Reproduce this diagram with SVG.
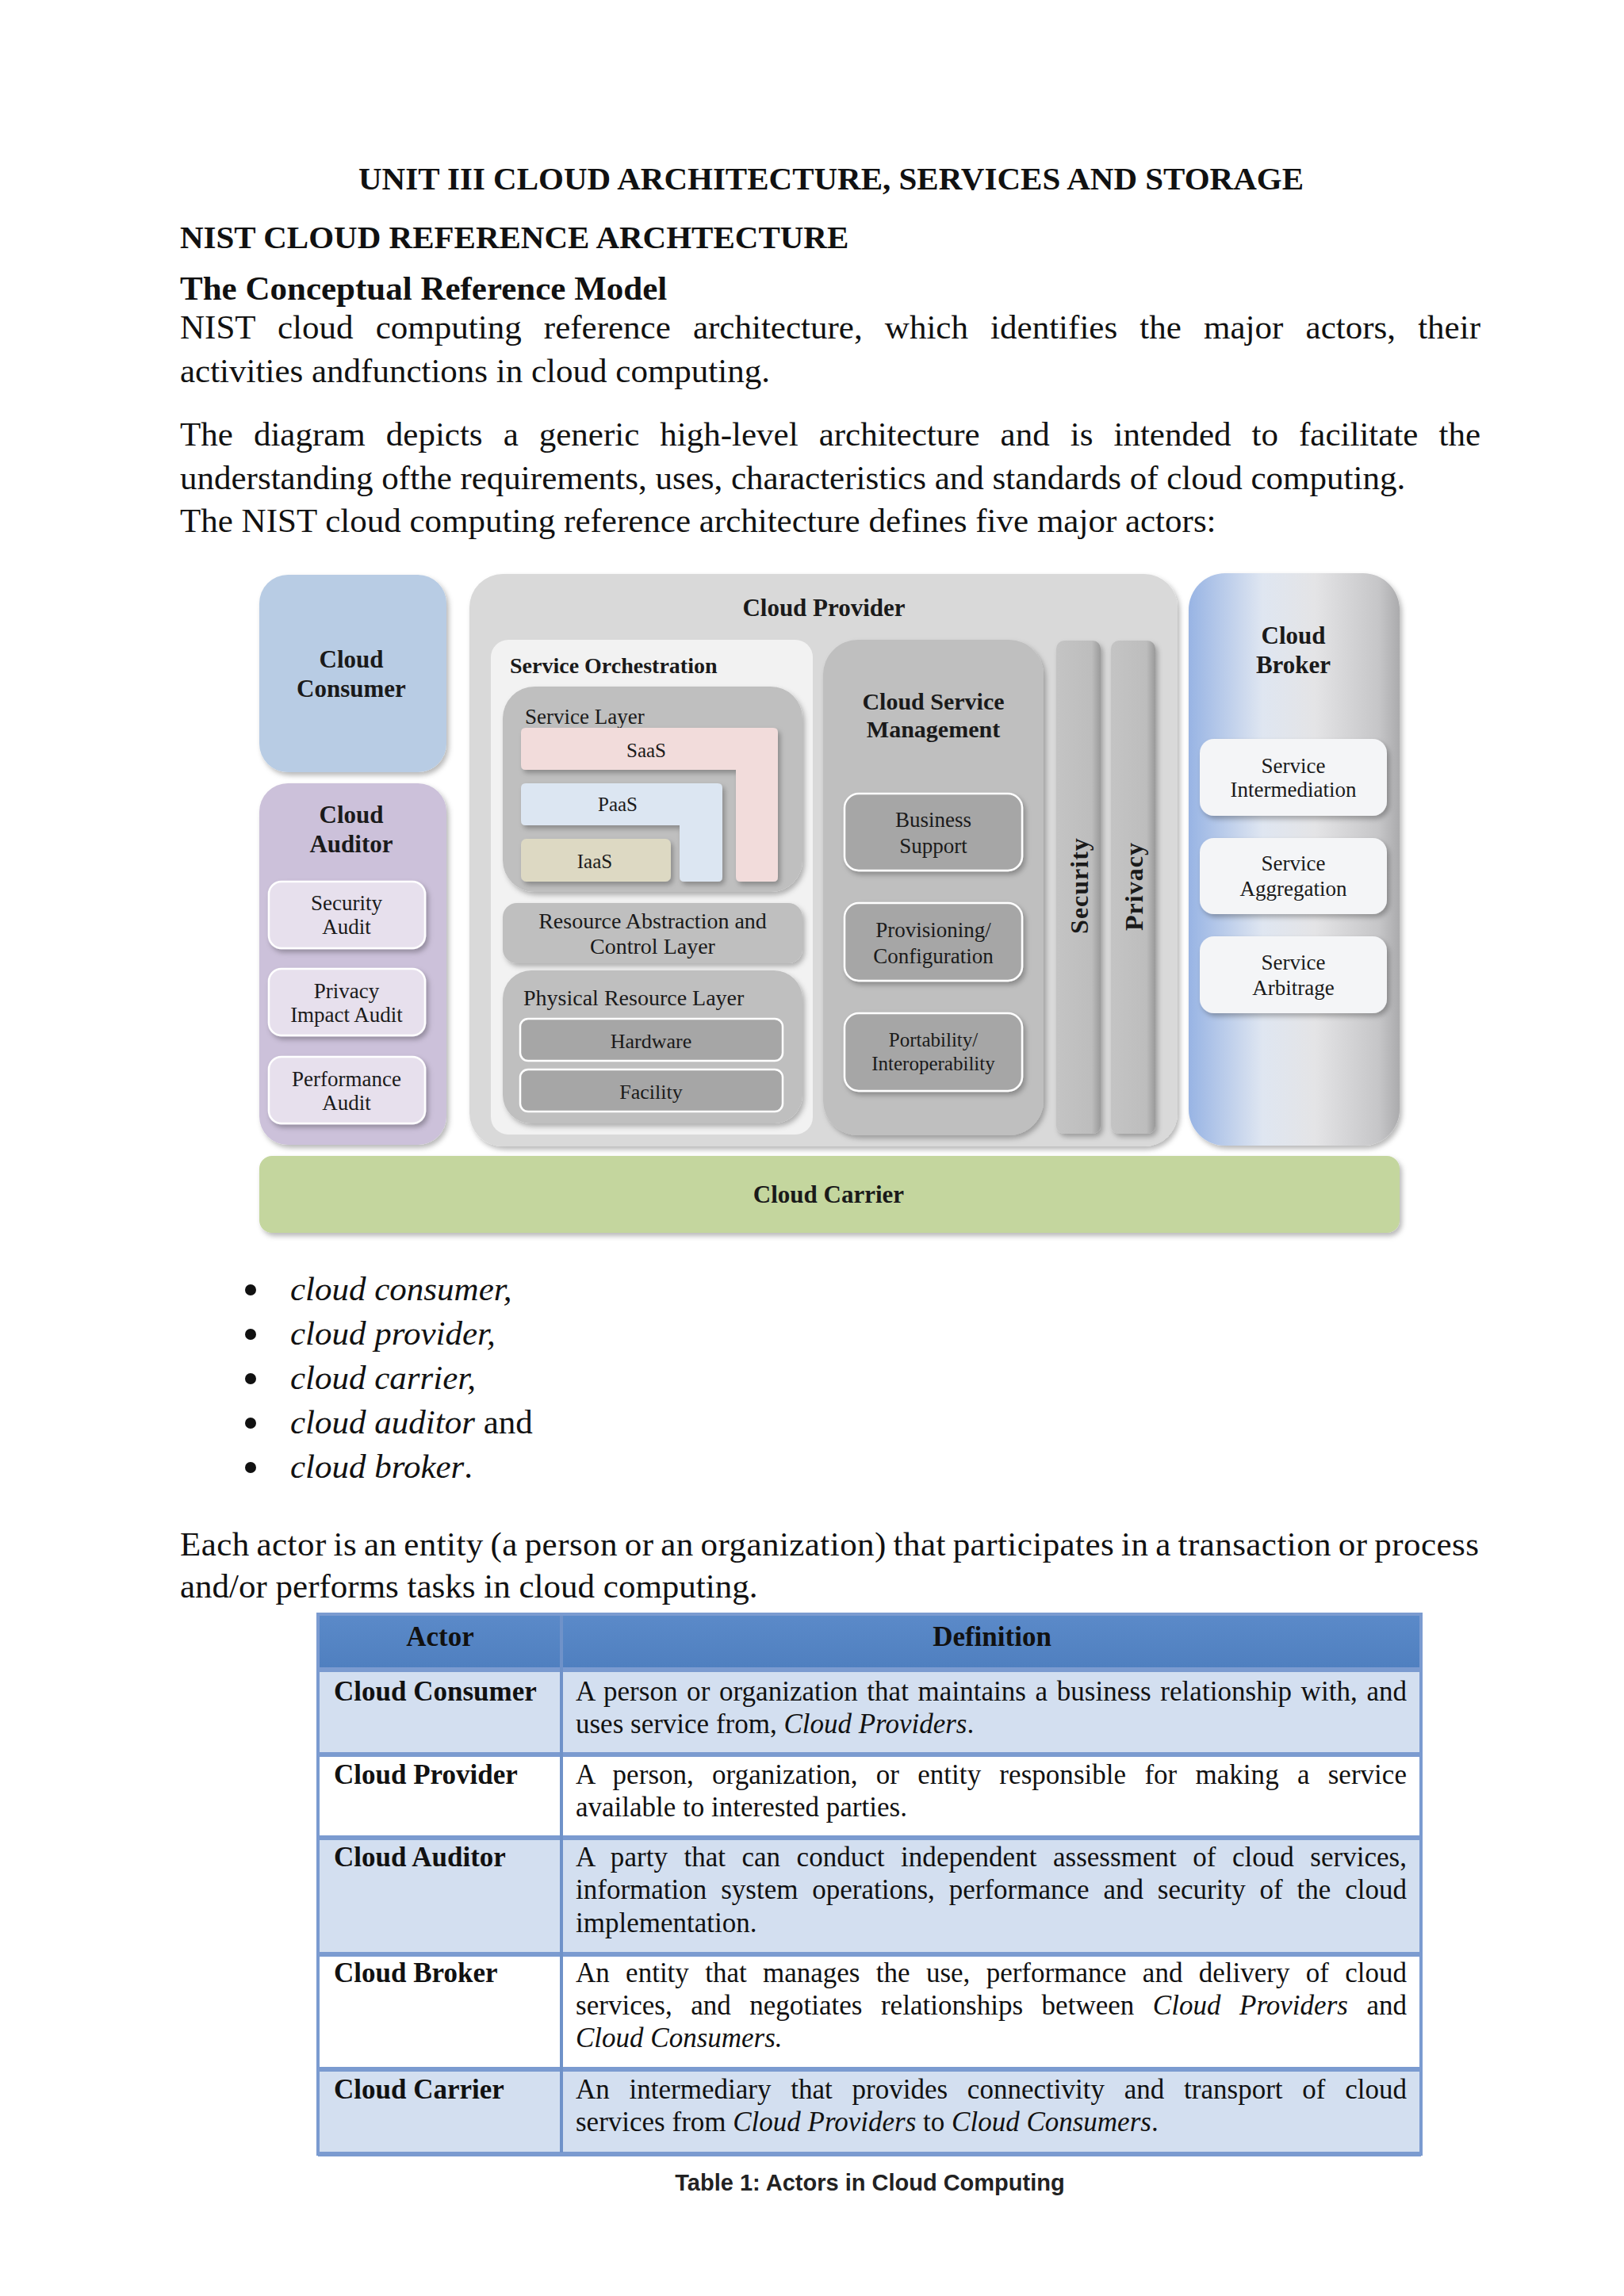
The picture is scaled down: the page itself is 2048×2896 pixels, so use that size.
<svg xmlns="http://www.w3.org/2000/svg" width="2048" height="2896" viewBox="0 0 2048 2896">
<defs>
<style>
.t{font-family:"Liberation Serif","Times New Roman",serif;fill:#111}
.b{font-weight:bold}
.i{font-style:italic}
.h{font-size:41px;font-weight:bold}
.p{font-size:43px}
.d{font-family:"Liberation Serif","Times New Roman",serif;fill:#1a1a1a}
.db{font-size:31px;font-weight:bold}
.ds{font-size:27px}
.mid{text-anchor:middle}
.tb{font-size:35px}
.cap{font-family:"Liberation Sans",Arial,sans-serif;font-weight:bold;font-size:29px;fill:#222;text-anchor:middle}
.box{filter:url(#sh)}
.sub{stroke:#ffffff;stroke-width:2.5}
.sep{stroke:#7b9bd0;stroke-width:6}
</style>
<filter id="sh" x="-10%" y="-10%" width="130%" height="130%">
<feDropShadow dx="3" dy="4" stdDeviation="3" flood-color="#000" flood-opacity="0.28"/>
</filter>
<linearGradient id="broker" x1="0" y1="0" x2="1" y2="0">
<stop offset="0" stop-color="#98b4e4"/>
<stop offset="0.35" stop-color="#dfe6f1"/>
<stop offset="0.6" stop-color="#e4e4e6"/>
<stop offset="0.9" stop-color="#c6c6c8"/>
<stop offset="1" stop-color="#ababad"/>
</linearGradient>
<linearGradient id="bar" x1="0" y1="0" x2="1" y2="0">
<stop offset="0" stop-color="#c4c4c4"/>
<stop offset="0.8" stop-color="#bdbdbd"/>
<stop offset="1" stop-color="#9a9a9a"/>
</linearGradient>
<linearGradient id="hdr" x1="0" y1="0" x2="0" y2="1">
<stop offset="0" stop-color="#5b8ac9"/>
<stop offset="1" stop-color="#4f7fbf"/>
</linearGradient>
</defs>
<rect width="2048" height="2896" fill="#ffffff"/>

<g id="header-text">
<text class="t h mid" x="1048" y="239">UNIT III CLOUD ARCHITECTURE, SERVICES AND STORAGE</text>
<text class="t h" x="227" y="313">NIST CLOUD REFERENCE ARCHTECTURE</text>
<text class="t b" x="227" y="378" font-size="43">The Conceptual Reference Model</text>
<text class="t p" x="227" y="427" word-spacing="17.4" textLength="1640" lengthAdjust="spacing">NIST cloud computing reference architecture, which identifies the major actors, their</text>
<text class="t p" x="227" y="482">activities andfunctions in cloud computing.</text>
<text class="t p" x="227" y="562" word-spacing="15.3" textLength="1640" lengthAdjust="spacing">The diagram depicts a generic high-level architecture and is intended to facilitate the</text>
<text class="t p" x="227" y="617">understanding ofthe requirements, uses, characteristics and standards of cloud computing.</text>
<text class="t p" x="227" y="671">The NIST cloud computing reference architecture defines five major actors:</text>
</g>

<g id="cloud-consumer">
<rect class="box" x="327" y="725" width="236" height="249" rx="36" fill="#b8cce4"/>
<text class="d db mid" x="443" y="842">Cloud</text>
<text class="d db mid" x="443" y="879">Consumer</text>
</g>

<g id="cloud-auditor">
<rect class="box" x="327" y="988" width="236" height="456" rx="36" fill="#ccc1da"/>
<text class="d db mid" x="443" y="1038">Cloud</text>
<text class="d db mid" x="443" y="1075">Auditor</text>
<g id="security-audit">
<rect class="box sub" x="339" y="1112" width="197" height="84" rx="16" fill="#e7e0ed"/>
<text class="d ds mid" x="437" y="1148">Security</text>
<text class="d ds mid" x="437" y="1178">Audit</text>
</g>
<g id="privacy-impact-audit">
<rect class="box sub" x="339" y="1222" width="197" height="84" rx="16" fill="#e7e0ed"/>
<text class="d ds mid" x="437" y="1259">Privacy</text>
<text class="d ds mid" x="437" y="1289">Impact Audit</text>
</g>
<g id="performance-audit">
<rect class="box sub" x="339" y="1333" width="197" height="84" rx="16" fill="#e7e0ed"/>
<text class="d ds mid" x="437" y="1370">Performance</text>
<text class="d ds mid" x="437" y="1400">Audit</text>
</g>
</g>

<g id="cloud-provider">
<rect class="box" x="592" y="724" width="893" height="722" rx="42" fill="#d9d9d9"/>
<text class="d db mid" x="1039" y="777">Cloud Provider</text>

<g id="service-orchestration">
<rect x="619" y="807" width="406" height="624" rx="22" fill="#f2f2f2"/>
<text class="d b" x="643" y="849" font-size="28">Service Orchestration</text>
<g id="service-layer">
<rect class="box" x="634" y="866" width="378" height="259" rx="40" fill="#bfbfbf"/>
<text class="d" x="662" y="913" font-size="27">Service Layer</text>
<path id="saas" class="box" d="M663,918 H975 Q981,918 981,924 V1106 Q981,1112 975,1112 H934 Q928,1112 928,1106 V971 H663 Q657,971 657,965 V924 Q657,918 663,918 Z" fill="#f2dcdb"/>
<text class="d mid" x="815" y="955" font-size="25">SaaS</text>
<path id="paas" class="box" d="M663,988 H905 Q911,988 911,994 V1106 Q911,1112 905,1112 H863 Q857,1112 857,1106 V1041 H663 Q657,1041 657,1035 V994 Q657,988 663,988 Z" fill="#dce6f2"/>
<text class="d mid" x="779" y="1023" font-size="25">PaaS</text>
<rect id="iaas" class="box" x="657" y="1058" width="189" height="54" rx="7" fill="#ddd9c3"/>
<text class="d mid" x="750" y="1095" font-size="25">IaaS</text>
</g>
<g id="resource-abstraction">
<rect class="box" x="634" y="1139" width="378" height="76" rx="18" fill="#bfbfbf"/>
<text class="d mid" x="823" y="1171" font-size="28">Resource Abstraction and</text>
<text class="d mid" x="823" y="1203" font-size="28">Control Layer</text>
</g>
<g id="physical-resource-layer">
<rect class="box" x="634" y="1224" width="378" height="193" rx="36" fill="#bfbfbf"/>
<text class="d" x="660" y="1268" font-size="28">Physical Resource Layer</text>
<rect class="sub" x="656" y="1285" width="331" height="53" rx="10" fill="#a6a6a6"/>
<text class="d mid" x="821" y="1322" font-size="26">Hardware</text>
<rect class="sub" x="656" y="1349" width="331" height="53" rx="10" fill="#a6a6a6"/>
<text class="d mid" x="821" y="1386" font-size="26">Facility</text>
</g>
</g>

<g id="cloud-service-management">
<rect class="box" x="1038" y="807" width="278" height="625" rx="44" fill="#bfbfbf"/>
<text class="d b mid" x="1177" y="895" font-size="30">Cloud Service</text>
<text class="d b mid" x="1177" y="930" font-size="30">Management</text>
<g id="business-support">
<rect class="box sub" x="1065" y="1001" width="224" height="97" rx="18" fill="#a6a6a6"/>
<text class="d ds mid" x="1177" y="1043">Business</text>
<text class="d ds mid" x="1177" y="1076">Support</text>
</g>
<g id="provisioning-configuration">
<rect class="box sub" x="1065" y="1139" width="224" height="98" rx="18" fill="#a6a6a6"/>
<text class="d ds mid" x="1177" y="1182">Provisioning/</text>
<text class="d ds mid" x="1177" y="1215">Configuration</text>
</g>
<g id="portability-interoperability">
<rect class="box sub" x="1065" y="1278" width="224" height="98" rx="18" fill="#a6a6a6"/>
<text class="d mid" x="1177" y="1320" font-size="25">Portability/</text>
<text class="d mid" x="1177" y="1350" font-size="25">Interoperability</text>
</g>
</g>

<g id="security">
<rect class="box" x="1332" y="808" width="56" height="622" rx="10" fill="url(#bar)"/>
<text class="d b mid" transform="translate(1372,1117) rotate(-90)" font-size="32" letter-spacing="1">Security</text>
</g>
<g id="privacy">
<rect class="box" x="1401" y="808" width="56" height="622" rx="10" fill="url(#bar)"/>
<text class="d b mid" transform="translate(1441,1118) rotate(-90)" font-size="32" letter-spacing="1">Privacy</text>
</g>
</g>

<g id="cloud-broker">
<rect class="box" x="1499" y="723" width="266" height="722" rx="46" fill="url(#broker)"/>
<text class="d db mid" x="1631" y="812">Cloud</text>
<text class="d db mid" x="1631" y="849">Broker</text>
<g id="service-intermediation">
<rect class="box" x="1513" y="932" width="236" height="97" rx="18" fill="#f4f5f7"/>
<text class="d ds mid" x="1631" y="975">Service</text>
<text class="d ds mid" x="1631" y="1005">Intermediation</text>
</g>
<g id="service-aggregation">
<rect class="box" x="1513" y="1057" width="236" height="96" rx="18" fill="#f4f5f7"/>
<text class="d ds mid" x="1631" y="1098">Service</text>
<text class="d ds mid" x="1631" y="1130">Aggregation</text>
</g>
<g id="service-arbitrage">
<rect class="box" x="1513" y="1181" width="236" height="97" rx="18" fill="#f4f5f7"/>
<text class="d ds mid" x="1631" y="1223">Service</text>
<text class="d ds mid" x="1631" y="1255">Arbitrage</text>
</g>
</g>

<g id="cloud-carrier">
<rect class="box" x="327" y="1458" width="1438" height="97" rx="16" fill="#c4d69e"/>
<text class="d db mid" x="1045" y="1517">Cloud Carrier</text>
</g>

<g id="connectors"></g>

<g id="bullets">
<circle cx="316" cy="1627" r="7" fill="#111"/>
<text class="t p i" x="366" y="1640">cloud consumer,</text>
<circle cx="316" cy="1683" r="7" fill="#111"/>
<text class="t p i" x="366" y="1696">cloud provider,</text>
<circle cx="316" cy="1739" r="7" fill="#111"/>
<text class="t p i" x="366" y="1752">cloud carrier,</text>
<circle cx="316" cy="1795" r="7" fill="#111"/>
<text class="t p" x="366" y="1808"><tspan class="i">cloud auditor</tspan> and</text>
<circle cx="316" cy="1851" r="7" fill="#111"/>
<text class="t p" x="366" y="1864"><tspan class="i">cloud broker</tspan>.</text>
</g>

<g id="para3">
<text class="t p" x="227" y="1962" word-spacing="-2.4" textLength="1638" lengthAdjust="spacing">Each actor is an entity (a person or an organization) that participates in a transaction or process</text>
<text class="t p" x="227" y="2015">and/or performs tasks in cloud computing.</text>
</g>

<g id="table">
<rect x="401" y="2036" width="1391" height="70" fill="url(#hdr)"/>
<rect x="401" y="2106" width="1391" height="107" fill="#d3dff0"/>
<rect x="401" y="2213" width="1391" height="105" fill="#ffffff"/>
<rect x="401" y="2318" width="1391" height="147" fill="#d3dff0"/>
<rect x="401" y="2465" width="1391" height="145" fill="#ffffff"/>
<rect x="401" y="2610" width="1391" height="107" fill="#d3dff0"/>
<line class="sep" x1="401" y1="2106" x2="1792" y2="2106"/>
<line class="sep" x1="401" y1="2213" x2="1792" y2="2213"/>
<line class="sep" x1="401" y1="2318" x2="1792" y2="2318"/>
<line class="sep" x1="401" y1="2465" x2="1792" y2="2465"/>
<line class="sep" x1="401" y1="2610" x2="1792" y2="2610"/>
<line class="sep" x1="401" y1="2717" x2="1792" y2="2717"/>
<line x1="708" y1="2036" x2="708" y2="2717" stroke="#6f92c9" stroke-width="4"/>
<rect x="401" y="2036" width="1391" height="681" fill="none" stroke="#7b9bd0" stroke-width="4"/>

<text class="t b tb mid" x="555" y="2076" fill="#1f2a44">Actor</text>
<text class="t b tb mid" x="1251" y="2076" fill="#1f2a44">Definition</text>

<text class="t b tb" x="421" y="2145">Cloud Consumer</text>
<text class="t tb" x="726" y="2145" word-spacing="2.8" textLength="1048" lengthAdjust="spacing">A person or organization that maintains a business relationship with, and</text>
<text class="t tb" x="726" y="2186">uses service from, <tspan class="i">Cloud Providers</tspan>.</text>

<text class="t b tb" x="421" y="2250">Cloud Provider</text>
<text class="t tb" x="726" y="2250" word-spacing="14.4" textLength="1048" lengthAdjust="spacing">A person, organization, or entity responsible for making a service</text>
<text class="t tb" x="726" y="2291">available to interested parties.</text>

<text class="t b tb" x="421" y="2354">Cloud Auditor</text>
<text class="t tb" x="726" y="2354" word-spacing="11.7" textLength="1048" lengthAdjust="spacing">A party that can conduct independent assessment of cloud services,</text>
<text class="t tb" x="726" y="2395" word-spacing="9.1" textLength="1048" lengthAdjust="spacing">information system operations, performance and security of the cloud</text>
<text class="t tb" x="726" y="2437">implementation.</text>

<text class="t b tb" x="421" y="2500">Cloud Broker</text>
<text class="t tb" x="726" y="2500" word-spacing="11.6" textLength="1048" lengthAdjust="spacing">An entity that manages the use, performance and delivery of cloud</text>
<text class="t tb" x="726" y="2541" word-spacing="14.7" textLength="1048" lengthAdjust="spacing">services, and negotiates relationships between <tspan class="i">Cloud Providers</tspan> and</text>
<text class="t tb i" x="726" y="2582">Cloud Consumers.</text>

<text class="t b tb" x="421" y="2647">Cloud Carrier</text>
<text class="t tb" x="726" y="2647" word-spacing="16" textLength="1048" lengthAdjust="spacing">An intermediary that provides connectivity and transport of cloud</text>
<text class="t tb" x="726" y="2688">services from <tspan class="i">Cloud Providers</tspan> to <tspan class="i">Cloud Consumers</tspan>.</text>

<text class="cap" x="1097" y="2763">Table 1: Actors in Cloud Computing</text>
</g>
</svg>
